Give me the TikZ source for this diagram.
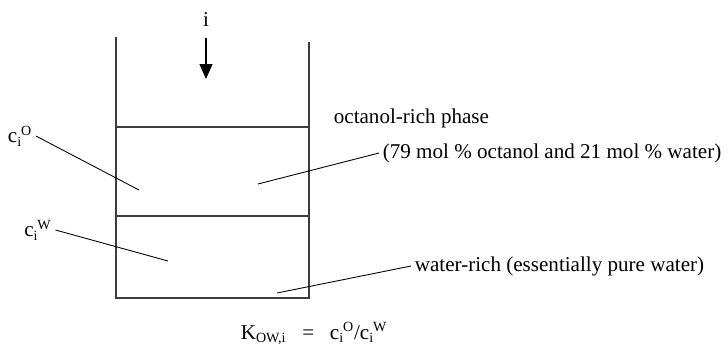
\documentclass[tikz,border=0pt]{standalone}
\usepackage{fontspec}
\setmainfont{Liberation Serif}
\usepackage{tikz}
\usetikzlibrary{arrows.meta}
\usepackage{xcolor}
\definecolor{wallgray}{RGB}{60, 60, 60}
\newcommand{\conc}[1]{c\textsubscript{i}\kern-0.05em\textsuperscript{#1}}

\tikzset{
    wall/.style={draw=wallgray, line width=0.6pt},
    leader/.style={draw=black, line width=0.5pt},
    lbl/.style={font=\fontsize{12}{14}\selectfont, inner sep=2pt},
}

\begin{document}
\begin{tikzpicture}[x=0.02cm, y=-0.02cm]
    \useasboundingbox (0,0) rectangle (728,346);

    % Beaker with the two phases
    \draw[wall] (116,37) -- (116,298) -- (309,298) -- (309,42);
    \draw[wall] (116,127) -- (309,127);
    \draw[wall] (116,216) -- (309,216);

    % Solute dropped in
    \node[lbl] (solute) at (206,20) {i};
    \coordinate (drop) at (206,79);
    \draw[-{Triangle[length=0.3cm, width=0.26cm]}, line width=0.6pt, shorten <=0.15cm] (solute) -- (drop);

    % Points inside the phases
    \coordinate (inO) at (139,190);
    \coordinate (inW) at (168,261);
    \coordinate (octpt) at (258,184);
    \coordinate (watpt) at (277,293);

    % Labels
    \node[lbl] (cO) at (20,136) {\conc{O}};
    \node[lbl] (cW) at (38,230) {\conc{W}};
    \node[lbl, anchor=west] (octname) at (330,118) {octanol-rich phase};
    \node[lbl, anchor=west] (octmix) at (379,153) {(79 mol \% octanol and 21 mol \% water)};
    \node[lbl, anchor=west] (watname) at (411,266) {water-rich (essentially pure water)};
    \node[lbl, anchor=base] (kow) at (314,339) {K\textsubscript{OW,i}\enspace\ =\enspace\ \conc{O}/\conc{W}};

    % Leader lines
    \draw[leader] (cO.east) -- (inO);
    \draw[leader] (cW.east) -- (inW);
    \draw[leader] (octmix.west) -- (octpt);
    \draw[leader] (watname.west) -- (watpt);
\end{tikzpicture}
\end{document}
